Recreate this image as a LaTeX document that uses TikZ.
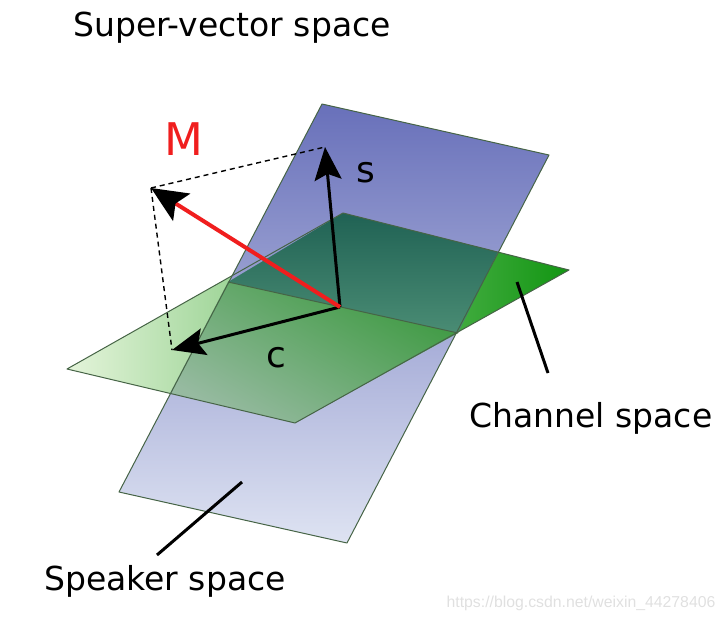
\documentclass[tikz,border=0pt]{standalone}
\usepackage{fontspec}
\setmainfont{DejaVu Sans}
\newfontfamily\wmfont{Liberation Sans}
\usetikzlibrary{arrows.meta}
\definecolor{bluetop}{RGB}{104,112,186}
\definecolor{bluebot}{RGB}{222,227,242}
\definecolor{greenleft}{RGB}{228,244,218}
\definecolor{greenright}{RGB}{18,150,18}
\definecolor{tealtop}{RGB}{32,98,84}
\definecolor{tealbot}{RGB}{74,140,116}
\definecolor{fronttop}{RGB}{62,154,66}
\definecolor{frontbot}{RGB}{150,186,160}
\definecolor{edgecol}{RGB}{70,100,70}
\definecolor{mred}{RGB}{240,30,30}
\definecolor{wmgray}{RGB}{224,224,224}
\begin{document}
\begin{tikzpicture}[x=1pt,y=-1pt,
  edge/.style={draw=edgecol, line width=1pt, line join=round},
  vecarrow/.style={line width=3pt, -{Stealth[length=33pt,width=27pt,inset=6pt]}},
  redarrow/.style={mred, line width=4pt, -{Stealth[length=36pt,width=32pt,inset=7pt,color=black]}},
  proj/.style={black, line width=1.4pt, dash pattern=on 5pt off 4pt},
  pointer/.style={black, line width=3pt},
  bigtext/.style={font=\fontsize{33}{40}\selectfont, anchor=base, inner sep=0pt},
  veclabel/.style={font=\fontsize{36}{42}\selectfont, anchor=base, inner sep=0pt}]
\useasboundingbox (0,0) rectangle (727,618);
% plane corners
\coordinate (B1) at (322,104); \coordinate (B2) at (549,155);
\coordinate (B3) at (347,543); \coordinate (B4) at (119,492);
\coordinate (G1) at (67,369);  \coordinate (G2) at (343,213);
\coordinate (G3) at (569,270); \coordinate (G4) at (295,423);
\coordinate (I1) at (228,282); \coordinate (I2) at (458,333);
\coordinate (I3) at (498,252); \coordinate (I4) at (170,393);
% channel plane
\shade[left color=greenleft, right color=greenright] (G1)--(G2)--(G3)--(G4)--cycle;
% speaker plane
\shade[top color=bluetop, bottom color=bluebot] (B1)--(B2)--(B3)--(B4)--cycle;
% channel plane seen through speaker plane
\shade[top color=tealtop, bottom color=tealbot] (I1)--(G2)--(I3)--(I2)--cycle;
% channel plane in front of speaker plane
\shade[top color=fronttop, bottom color=frontbot, shading angle=-30] (I1)--(I2)--(G4)--(I4)--cycle;
% edges
\draw[edge] (G1)--(G2)--(G3)--(G4)--cycle;
\draw[edge] (B1)--(B2)--(B3)--(B4)--cycle;
\draw[edge] (I1)--(I2);
% vectors
\coordinate (O) at (340,307);
\coordinate (S) at (325,147);
\coordinate (C) at (172,350);
\coordinate (Mt) at (151,188);
\draw[proj] (Mt)--(S);
\draw[proj] (Mt)--(C);
\draw[vecarrow] (O)--(S);
\draw[vecarrow] (O)--(C);
\draw[redarrow] (O)--(Mt);
% labels
\node[veclabel, text=mred, font=\fontsize{45}{50}\selectfont] (lm) at (184,155) {M};
\node[veclabel] (ls) at (366,182) {s};
\node[veclabel] (lc) at (276,367) {c};
\node[bigtext] (title) at (232,37) {Super-vector space};
\node[bigtext] (chan) at (591,427) {Channel space};
\node[bigtext] (spk) at (165,590) {Speaker space};
% pointers
\coordinate (cp1) at (517,282); \coordinate (cp2) at (548,373);
\coordinate (sp1) at (242,482); \coordinate (sp2) at (157,555);
\draw[pointer] (cp1)--(cp2);
\draw[pointer] (sp1)--(sp2);
% watermark
\node[anchor=base, inner sep=0pt, text=wmgray, font=\wmfont\fontsize{15.8}{18}\selectfont] (wm) at (581,607) {https://blog.csdn.net/weixin\_44278406};
\end{tikzpicture}
\end{document}
